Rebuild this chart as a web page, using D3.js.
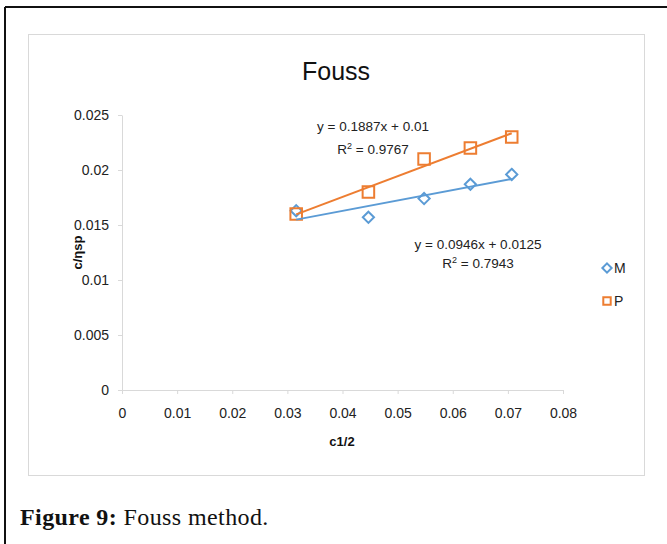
<!DOCTYPE html>
<html>
<head>
<meta charset="utf-8">
<script src="https://cdn.jsdelivr.net/npm/d3@7"></script>
<style>
  html, body { margin: 0; padding: 0; background: #fff; }
  svg { display: block; }
</style>
</head>
<body>
<svg id="chart" width="667" height="544"></svg>
<script>
// c^(1/2) values shared by both series
const xValues = [0.0316, 0.0447, 0.0548, 0.0632, 0.0707];
// c/ηsp for each sample
const mValues = [0.0163, 0.0157, 0.0174, 0.0187, 0.0196];
const pValues = [0.0160, 0.0180, 0.0210, 0.0220, 0.0230];
const seriesNames = ["M", "P"];
// linear trendlines (slope, intercept, R²) for M and P
const trendSlopes = [0.0946, 0.1887];
const trendIntercepts = [0.0125, 0.01];
const trendR2 = ["0.7943", "0.9767"];
const trendEquations = ["y = 0.0946x + 0.0125", "y = 0.1887x + 0.01"];
const xTicks = [0, 0.01, 0.02, 0.03, 0.04, 0.05, 0.06, 0.07, 0.08];
const yTicks = [0, 0.005, 0.01, 0.015, 0.02, 0.025];

const colors = ["#5B9BD5", "#ED7D31"];
const sansFont = "'Liberation Sans', Arial, sans-serif";

const svg = d3.select("#chart");

// page frame (left and top rules)
svg.append("line").attr("x1", 5).attr("y1", 7).attr("x2", 667).attr("y2", 7)
  .attr("stroke", "#111").attr("stroke-width", 2);
svg.append("line").attr("x1", 5).attr("y1", 7).attr("x2", 5).attr("y2", 544)
  .attr("stroke", "#111").attr("stroke-width", 2);

// chart area box
svg.append("rect").attr("x", 28.5).attr("y", 34.5).attr("width", 616).attr("height", 441)
  .attr("fill", "#fff").attr("stroke", "#d9d9d9").attr("stroke-width", 1);

const x = d3.scaleLinear().domain([0, 0.08]).range([122, 563]);
const y = d3.scaleLinear().domain([0, 0.025]).range([390, 115]);
const fmt = d3.format("~g");

// title
svg.append("text").attr("x", 336).attr("y", 80).attr("text-anchor", "middle")
  .style("font-family", sansFont).style("font-size", "25px").attr("fill", "#111")
  .text("Fouss");

// axes
const xAxis = svg.append("g").attr("transform", `translate(0,${y(0)})`)
  .call(d3.axisBottom(x).tickValues(xTicks).tickFormat(fmt).tickSize(4).tickSizeOuter(0));
const yAxis = svg.append("g").attr("transform", `translate(${x(0)},0)`)
  .call(d3.axisLeft(y).tickValues(yTicks).tickFormat(fmt).tickSize(4).tickSizeOuter(0));
[xAxis, yAxis].forEach(g => {
  g.select(".domain").attr("stroke", "#d9d9d9");
  g.selectAll(".tick line").attr("stroke", "#d9d9d9");
  g.selectAll(".tick text").attr("fill", "#222")
    .style("font-family", sansFont).style("font-size", "14px");
});
xAxis.selectAll(".tick text").attr("y", 0).attr("dy", 0).attr("transform", "translate(0,28)");
yAxis.selectAll(".tick text").attr("x", -13);

// axis titles
svg.append("text").attr("x", 342).attr("y", 446).attr("text-anchor", "middle")
  .style("font-family", sansFont).style("font-size", "13px").style("font-weight", "bold")
  .attr("fill", "#111").text("c1/2");
svg.append("text").attr("transform", `translate(82,${(y(0) + y(0.025)) / 2}) rotate(-90)`)
  .attr("text-anchor", "middle")
  .style("font-family", sansFont).style("font-size", "13px").style("font-weight", "bold")
  .attr("fill", "#111").text("c/ηsp");

const series = [mValues, pValues];
const symbols = [d3.symbolDiamond2, d3.symbolSquare2];
const symbolSizes = [80, 170];

// markers
series.forEach((vals, i) => {
  svg.append("g").selectAll("path").data(vals).join("path")
    .attr("transform", (d, j) => `translate(${x(xValues[j])},${y(d)})`)
    .attr("d", d3.symbol(symbols[i], symbolSizes[i]))
    .attr("fill", "none").attr("stroke", colors[i]).attr("stroke-width", 2);
});

// trendlines over the measured range
const xMin = d3.min(xValues), xMax = d3.max(xValues);
trendSlopes.forEach((m, i) => {
  const b = trendIntercepts[i];
  svg.append("line")
    .attr("x1", x(xMin)).attr("y1", y(m * xMin + b))
    .attr("x2", x(xMax)).attr("y2", y(m * xMax + b))
    .attr("stroke", colors[i]).attr("stroke-width", 2);
});

// trendline labels
const labelPos = [[478, 249, 268], [373, 131, 154]];
labelPos.forEach(([lx, ly1, ly2], i) => {
  svg.append("text").attr("x", lx).attr("y", ly1).attr("text-anchor", "middle")
    .style("font-family", sansFont).style("font-size", "13.5px").attr("fill", "#222")
    .text(trendEquations[i]);
  const t = svg.append("text").attr("x", lx).attr("y", ly2).attr("text-anchor", "middle")
    .style("font-family", sansFont).style("font-size", "13.5px").attr("fill", "#222");
  t.append("tspan").text("R");
  t.append("tspan").attr("dy", -5).style("font-size", "9px").text("2");
  t.append("tspan").attr("dy", 5).text(" = " + trendR2[i]);
});

// legend
const legendY = [268, 301];
seriesNames.forEach((name, i) => {
  svg.append("path").attr("transform", `translate(607,${legendY[i]})`)
    .attr("d", d3.symbol(symbols[i], i === 0 ? 55 : 70))
    .attr("fill", "none").attr("stroke", colors[i]).attr("stroke-width", 2);
  svg.append("text").attr("x", 614).attr("y", legendY[i] + 5)
    .style("font-family", sansFont).style("font-size", "14px").attr("fill", "#222")
    .text(name);
});

// caption
const cap = svg.append("text").attr("x", 20).attr("y", 525)
  .style("font-family", "'Liberation Serif', 'Times New Roman', serif").style("font-size", "24px")
  .style("letter-spacing", "0.4px")
  .attr("fill", "#111");
cap.append("tspan").style("font-weight", "bold").text("Figure 9:");
cap.append("tspan").text(" Fouss method.");
</script>
</body>
</html>
